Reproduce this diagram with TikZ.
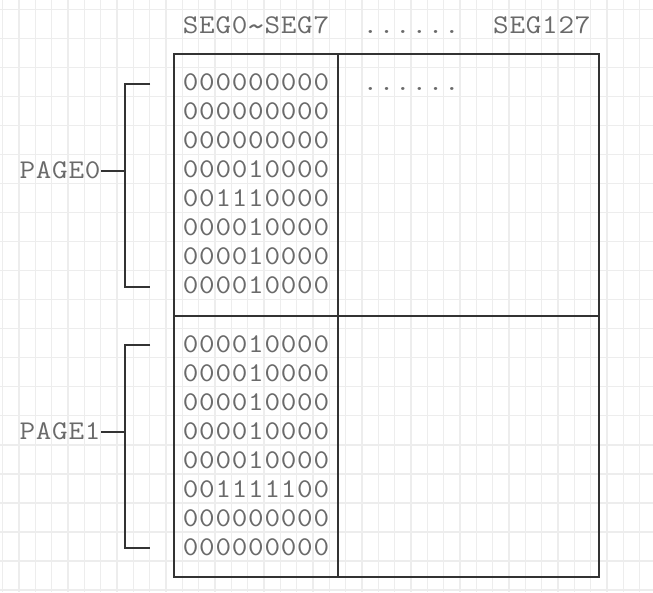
\documentclass[tikz,border=0pt]{standalone}
\usepackage{fontspec}
\usepackage{graphicx}
\definecolor{gridc}{HTML}{EDEDED}
\definecolor{linec}{HTML}{333333}
\definecolor{textc}{HTML}{6A6A6A}
\def\cellchars#1{\ifx#1\relax\else\makebox[16.333pt]{\scalebox{1.12}[1]{#1}}\expandafter\cellchars\fi}
\tikzset{
  gridline/.style={draw=gridc, line width=1.5pt},
  frame/.style={draw=linec, line width=2pt},
  brk/.style={draw=linec, line width=2pt},
  label/.style={inner sep=0pt, anchor=base west, text=textc,
    font=\ttfamily\fontsize{27}{30}\selectfont},
}
\begin{document}
\begin{tikzpicture}[x=1pt, y=-1pt]
\useasboundingbox (0,0) rectangle (653,592);
\fill[white] (0,0) rectangle (653,592);
% grid
\foreach \k in {0,...,39} {
  \draw[gridline] ({2.7+16.333*\k},0) -- ({2.7+16.333*\k},592);
}
\foreach \k in {0,...,20} {
  \draw[gridline] (0,{9.3+29.03*\k}) -- (653,{9.3+29.03*\k});
}
% frame
\draw[frame] (174.3,54.3) rectangle (599,576.7);
\draw[frame] (337.7,54.3) -- (337.7,576.7);
\draw[frame] (174.3,316) -- (599,316);
% header
\node[label] (seg07) at (182.3,33.5) {\cellchars SEG0{\raisebox{-4pt}{\scalebox{1.3}{\char`~}}}SEG7\relax};
\node[label] (hdots) at (362,33.5) {\cellchars ......\relax};
\node[label] (seg127) at (492.6,33.5) {\cellchars SEG127\relax};
\node[label] (rdots) at (362,90.7) {\cellchars ......\relax};
% rows
\foreach \bits [count=\i from 0] in {000000000,000000000,000000000,000010000,001110000,000010000,000010000,000010000} {
  \node[label] (p0r\i) at (182.3,{9.3+29.03*(\i+2.5)+8.8}) {\expandafter\cellchars\bits\relax};
}
\foreach \bits [count=\i from 0] in {000010000,000010000,000010000,000010000,000010000,001111100,000000000,000000000} {
  \node[label] (p1r\i) at (182.3,{9.3+29.03*(\i+11.5)+9.2}) {\expandafter\cellchars\bits\relax};
}
% page labels
\node[label] (page0) at (19,178.3) {\cellchars PAGE0\relax};
\node[label] (page1) at (19,439.3) {\cellchars PAGE1\relax};
% brackets
\coordinate (b0t) at (150,83.7);
\coordinate (b0b) at (150,286.7);
\coordinate (b0m) at (125.3,171);
\coordinate (b1t) at (150,344.5);
\coordinate (b1b) at (150,548);
\coordinate (b1m) at (125.3,432);
\draw[brk] (b0t) -- (125.3,83.7) -- (125.3,286.7) -- (b0b);
\draw[brk] (b1t) -- (125.3,344.5) -- (125.3,548) -- (b1b);
\draw[brk] (page0.east |- b0m) -- (b0m);
\draw[brk] (page1.east |- b1m) -- (b1m);
\end{tikzpicture}
\end{document}
